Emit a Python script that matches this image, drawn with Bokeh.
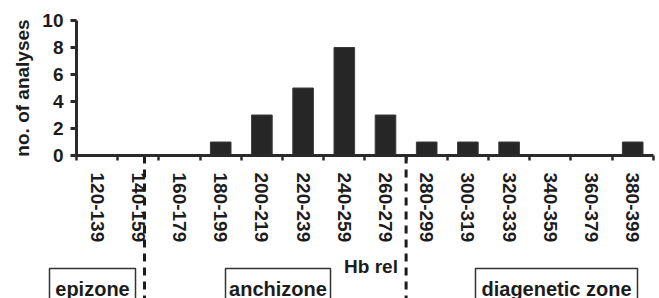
from bokeh.plotting import figure
from bokeh.models import LinearAxis, FixedTicker, Range1d
from bokeh.core.properties import value
from bokeh.embed import file_html
from bokeh.resources import INLINE

# ---- data ----
categories = ["120-139", "140-159", "160-179", "180-199", "200-219", "220-239", "240-259",
              "260-279", "280-299", "300-319", "320-339", "340-359", "360-379", "380-399"]
counts = [0, 0, 0, 1, 3, 5, 8, 3, 1, 1, 1, 0, 0, 1]
y_ticks = [0, 2, 4, 6, 8, 10]
zone_names = ["epizone", "anchizone", "diagenetic zone"]
zone_limits_hb = [153, 280]
bin_start = 120
bin_width = 20
x_title = "Hb rel"
y_title = "no. of analyses"

# ---- layout ----
W, H = 659, 298
X0 = 76.0      # canvas x of first category boundary
STEP = 41.2    # px per category
Y0 = 155.0     # canvas y of value 0
UNIT = 13.5    # px per count

def u_of_page(px):
    return (px - X0) / STEP

def v_of_page(py):
    return (Y0 - py) / UNIT

FONT = "Liberation Sans"
INK = "#1c1c1c"

p = figure(width=W, height=H, output_backend="svg", toolbar_location=None,
           x_axis_type=None, y_axis_type=None,
           x_range=Range1d(-X0 / STEP, (W - X0) / STEP),
           y_range=Range1d(-(H - Y0) / UNIT, Y0 / UNIT),
           min_border=0, outline_line_color=None)
p.background_fill_color = "white"
p.border_fill_color = "white"

n = len(categories)
centers = [i + 0.5 for i in range(n)]

p.vbar(x=centers, top=counts, bottom=0, width=0.5,
       fill_color="#262626", line_color="#3a3a3a", line_width=1)

# zone boundaries
ybot = -(H - Y0) / UNIT - 1
for hb in zone_limits_hb:
    u = (hb - bin_start) / bin_width
    p.segment(x0=[u], y0=[0], x1=[u], y1=[ybot], line_color=INK,
              line_width=3, line_dash="8 6")

# zone boxes (layout in page px)
box_px = [(49, 135), (225, 330), (475, 637)]
box_top = v_of_page(268)
for name, (a, b) in zip(zone_names, box_px):
    p.quad(left=[u_of_page(a)], right=[u_of_page(b)], top=[box_top], bottom=[ybot],
           fill_color=None, line_color="#333333", line_width=1.5)
    p.text(x=[u_of_page((a + b) / 2)], y=[v_of_page(288)], text=[name],
           text_font=value(FONT), text_font_style="bold", text_font_size="20px",
           text_color=INK, text_align="center", text_baseline="alphabetic")

# y axis
yax = LinearAxis(fixed_location=0, ticker=FixedTicker(ticks=y_ticks), bounds=(0, 10),
                 axis_line_width=3, axis_line_color="#2a2a2a",
                 major_tick_out=6, major_tick_in=0, major_tick_line_width=3,
                 major_tick_line_color="#2a2a2a", minor_tick_out=0, minor_tick_in=0,
                 major_label_text_font=FONT, major_label_text_font_style="bold",
                 major_label_text_font_size="19px", major_label_text_color=INK,
                 major_label_standoff=7,
                 axis_label=y_title, axis_label_text_font=FONT,
                 axis_label_text_font_style="bold", axis_label_text_font_size="19px",
                 axis_label_text_color=INK, axis_label_standoff=6)
p.add_layout(yax, "left")

# x axis: tick marks at category boundaries
xtick = LinearAxis(fixed_location=0, ticker=FixedTicker(ticks=list(range(n + 1))),
                   bounds=(0, n), axis_line_width=3, axis_line_color="#2a2a2a",
                   major_tick_out=5, major_tick_in=0, major_tick_line_width=2.5,
                   major_tick_line_color="#2a2a2a", minor_tick_out=0, minor_tick_in=0,
                   major_label_text_color=None)
p.add_layout(xtick, "below")

# x axis: category labels at centers
xlab = LinearAxis(fixed_location=0, ticker=FixedTicker(ticks=centers), bounds=(0.3, n),
                  major_label_overrides={c: cat for c, cat in zip(centers, categories)},
                  axis_line_color=None, major_tick_line_color=None,
                  major_tick_out=0, major_tick_in=0, minor_tick_out=0, minor_tick_in=0,
                  major_label_orientation="vertical", major_label_standoff=17,
                  major_label_text_font=FONT, major_label_text_font_style="bold",
                  major_label_text_font_size="19px", major_label_text_color=INK,
                  axis_label=x_title, axis_label_text_font=FONT,
                  axis_label_text_font_style="bold", axis_label_text_font_size="19px",
                  axis_label_text_color=INK, axis_label_standoff=11)
p.add_layout(xlab, "below")

open("out.html", "w").write(file_html(p, INLINE))
